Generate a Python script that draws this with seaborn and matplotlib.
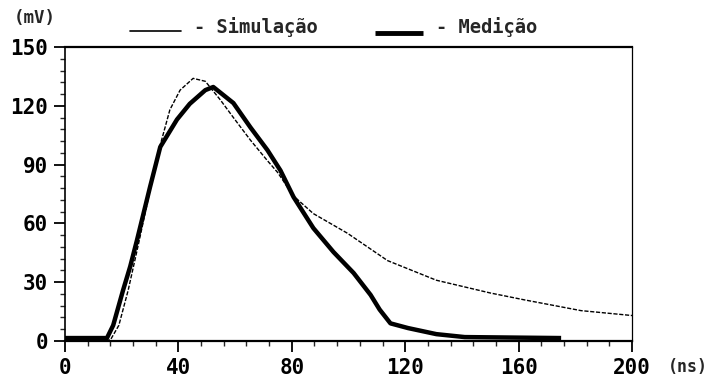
import numpy as np
import pandas as pd
import matplotlib
matplotlib.use("Agg")
import matplotlib.pyplot as plt
from matplotlib.lines import Line2D
from matplotlib.ticker import MultipleLocator
import seaborn as sns

# Data
sim_t = [0, 16, 19, 22.3, 26, 30, 33.6, 37, 40.6, 45.2, 49.5, 54.8, 59.4, 65.4, 71.4,
         75, 80.6, 87.6, 99.6, 113.8, 131, 150, 162, 182, 200]
sim_v = [0, 0.5, 8, 26, 50, 77, 100, 118, 128, 134, 132.5, 123, 114, 102.5, 92,
         86, 74, 65, 55, 41, 31, 24.5, 21, 15.5, 13]

med_t = [0, 14.8, 17, 20.5, 23, 25.4, 30, 33.6, 39.5, 44, 49.5, 52.3, 59.4, 65.4, 71.4,
         76, 80.6, 87.6, 94.7, 101.8, 107.8, 111, 114.8, 121, 131, 141, 175]
med_v = [1.5, 1.5, 8, 26, 38, 51.5, 78.6, 99, 113, 121, 128, 129.6, 121.4, 109, 97.4,
         87, 73.5, 57.6, 45.4, 34.7, 23.5, 16, 9, 6.6, 3.5, 2, 1.5]

x_ticks = [0, 40, 80, 120, 160, 200]
y_ticks = [0, 30, 60, 90, 120, 150]

sns.set_style("ticks")
plt.rcParams['font.family'] = ['DejaVu Sans Mono', 'DejaVu Sans']
plt.rcParams['font.weight'] = 'bold'

fig = plt.figure(figsize=(7.07, 3.81), dpi=100)
ax = fig.add_axes([65/707, 1-341/381, (632-65)/707, (341-47)/381])

df_sim = pd.DataFrame({"t": sim_t, "v": sim_v})
df_med = pd.DataFrame({"t": med_t, "v": med_v})
sns.lineplot(data=df_sim, x="t", y="v", ax=ax, color="black", lw=1.0,
             linestyle=(0, (3, 1.2)), sort=False)
sns.lineplot(data=df_med, x="t", y="v", ax=ax, color="black", lw=3.2,
             sort=False, solid_capstyle="butt")

ax.set_xlim(0, 200)
ax.set_ylim(0, 150)
ax.set_xlabel("")
ax.set_ylabel("")
ax.set_xticks(x_ticks)
ax.set_yticks(y_ticks)
ax.xaxis.set_minor_locator(MultipleLocator(8))
ax.yaxis.set_minor_locator(MultipleLocator(6))
ax.tick_params(axis='both', which='major', direction='out', length=8, width=1.3,
               labelsize=15, colors='black', pad=4)
ax.tick_params(axis='both', which='minor', direction='out', length=3.5, width=1.0)
for lab in ax.get_xticklabels() + ax.get_yticklabels():
    lab.set_fontweight('bold')
for s in ax.spines.values():
    s.set_color('black')
    s.set_linewidth(1.2)
ax.spines['top'].set_linewidth(1.6)
ax.spines['bottom'].set_linewidth(1.6)
ax.spines['right'].set_linewidth(0.9)

# Unit labels
fig.text(14/707, 1-18/381, "(mV)", fontsize=12.5, fontweight='bold', ha='left', va='center')
fig.text(668/707, 1-367/381, "(ns)", fontsize=12, fontweight='bold', ha='left', va='center')

# Legend
fig.add_artist(Line2D([130/707, 181/707], [1-31/381, 1-31/381], color='black', lw=1.2,
                      transform=fig.transFigure))
fig.text(194/707, 1-27/381, "- Simulação", fontsize=13.5, fontweight='bold', ha='left', va='center')
fig.add_artist(Line2D([375/707, 423/707], [1-33/381, 1-33/381], color='black', lw=3.5,
                      transform=fig.transFigure, solid_capstyle='butt'))
fig.text(436/707, 1-27/381, "- Medição", fontsize=13.5, fontweight='bold', ha='left', va='center')

fig.savefig("out.png", dpi=100)
